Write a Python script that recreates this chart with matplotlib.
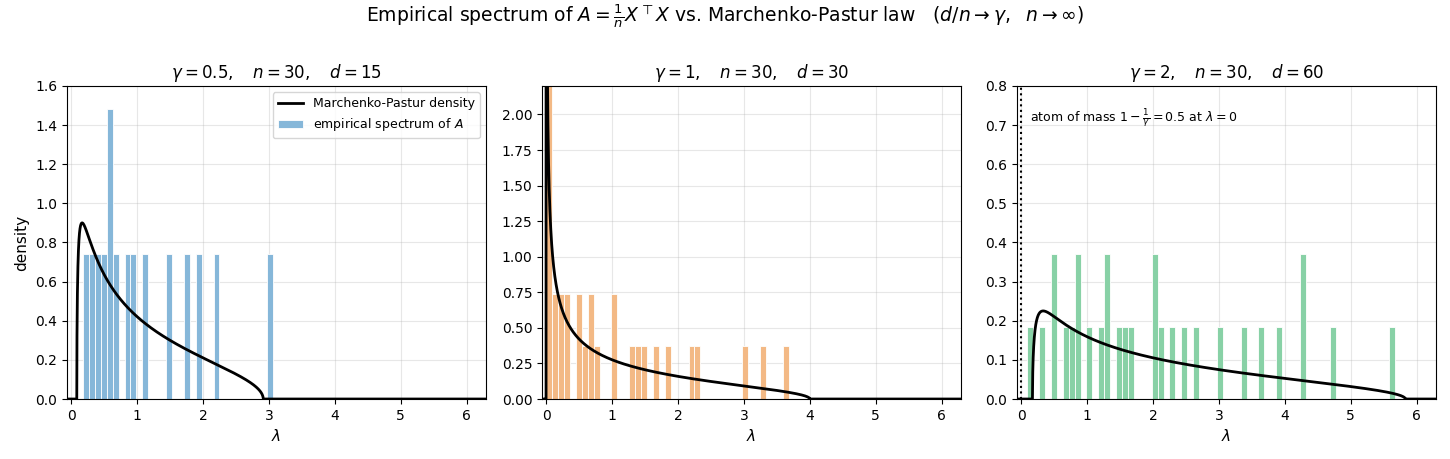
import numpy as np
import matplotlib
matplotlib.use("Agg")
import matplotlib.pyplot as plt

eig_g05 = [0.23, 0.31, 0.40, 0.49, 0.57, 0.60, 0.67, 0.85, 0.94, 1.12,
           1.48, 1.75, 1.93, 2.20, 3.01]
eig_g1 = [0.004, 0.012, 0.025, 0.040, 0.060, 0.080,
          0.12, 0.15, 0.21, 0.24, 0.30, 0.33, 0.47, 0.52, 0.58,
          0.66, 0.70, 0.76, 1.01, 1.06, 1.30, 1.39, 1.48, 1.66,
          1.84, 2.20, 2.29, 3.01, 3.28, 3.64]
eig_g2 = [0.13, 0.31, 0.48, 0.52, 0.67, 0.76, 0.84, 0.88, 1.03, 1.21,
          1.29, 1.32, 1.48, 1.57, 1.66, 2.01, 2.05, 2.11, 2.29, 2.47,
          2.65, 3.01, 3.37, 3.64, 3.91, 4.25, 4.29, 4.72, 5.62]

gammas = [0.5, 1, 2]
n_vals = [30, 30, 30]
d_vals = [15, 30, 60]
eigs = [eig_g05, eig_g1, eig_g2]
bar_colors = ["#86b7d9", "#f3b985", "#88d1a6"]
y_tops = [1.6, 2.2, 0.8]

x_hi = 1.08 * (1 + np.sqrt(2)) ** 2
x_lo = -0.01 * x_hi
bins = np.linspace(0, 6.3, 71)
width = bins[1] - bins[0]


def mp_density(x, g):
    a = (1 - np.sqrt(g)) ** 2
    b = (1 + np.sqrt(g)) ** 2
    out = np.zeros_like(x)
    m = (x > a) & (x < b) & (x > 0)
    out[m] = np.sqrt((b - x[m]) * (x[m] - a)) / (2 * np.pi * g * x[m])
    return out


fig = plt.figure(figsize=(14.5, 4.59), dpi=100)
lefts = [0.0462, 0.3738, 0.7014]
axes = [fig.add_axes([l, 0.1307, 0.289, 0.682]) for l in lefts]

xs = np.linspace(-0.03, x_hi, 4000)
for i, ax in enumerate(axes):
    g, n, d = gammas[i], n_vals[i], d_vals[i]
    ev = np.array(eigs[i])
    w = np.full(len(ev), 1.0 / (d * width))
    ax.plot(xs, mp_density(xs, g), color="black", lw=2,
            label="Marchenko-Pastur density", zorder=3)
    ax.hist(ev, bins=bins, weights=w, color=bar_colors[i], edgecolor="white",
            linewidth=0.6, label="empirical spectrum of $A$", zorder=2)
    ax.set_xlim(x_lo, x_hi)
    ax.set_ylim(0, y_tops[i])
    ax.grid(True, alpha=0.3, zorder=0)
    ax.set_axisbelow(True)
    ax.set_xlabel(r"$\lambda$", fontsize=11)
    ax.set_title(r"$\gamma = %g,\ \ \ n = %d,\ \ \ d = %d$" % (g, n, d),
                 fontsize=12)

axes[0].set_ylabel("density", fontsize=11)
axes[0].legend(loc="upper right", fontsize=9)
axes[1].set_yticks(np.arange(0, 2.01, 0.25))
axes[2].axvline(0, color="black", ls=":", lw=1.5, zorder=4)
axes[2].text(0.03, 0.93,
             r"atom of mass $1-\frac{1}{\gamma} = 0.5$ at $\lambda = 0$",
             transform=axes[2].transAxes, fontsize=9, va="top")

fig.suptitle(r"Empirical spectrum of $A = \frac{1}{n}X^\top X$ vs. "
             r"Marchenko-Pastur law   $(d/n \to \gamma,\ \ n \to \infty)$",
             fontsize=13.5, y=0.995)

fig.savefig("out.png", dpi=100)
